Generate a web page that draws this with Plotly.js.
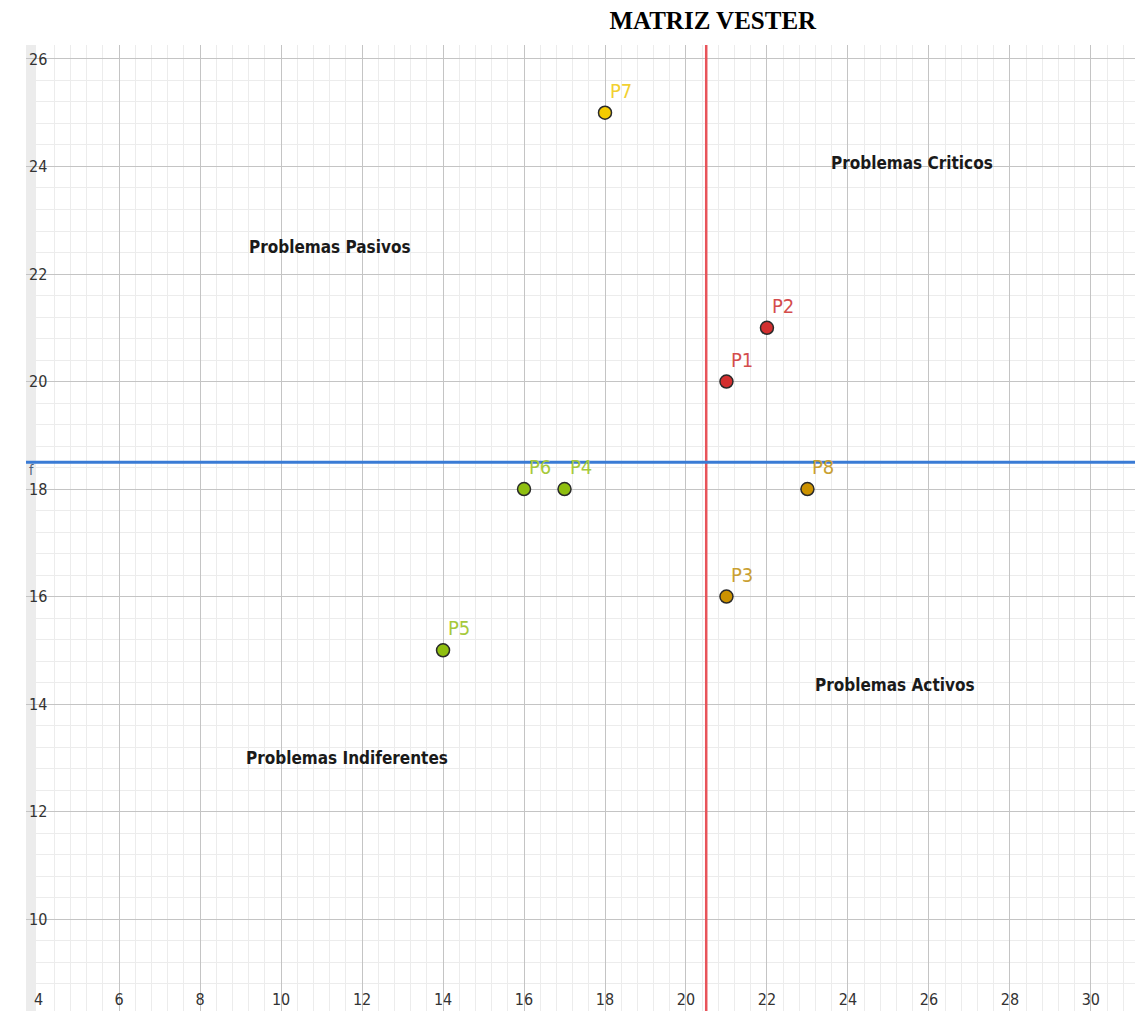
<!DOCTYPE html>
<html>
<head>
<meta charset="utf-8">
<script src="https://cdn.plot.ly/plotly-3.0.1.min.js"></script>
<style>html,body{margin:0;padding:0;background:#fff;}#chart{width:1135px;height:1011px;}</style>
</head>
<body>
<div id="chart"></div>
<script>
// ---- data ----
const puntos = ['P1', 'P2', 'P3', 'P4', 'P5', 'P6', 'P7', 'P8'];
const influencia = [21, 22, 21, 17, 14, 16, 18, 23];   // x
const dependencia = [20, 21, 16, 18, 15, 18, 25, 18];  // y
const corteX = 20.5;   // red vertical line
const corteY = 18.5;   // blue horizontal line (f)
const cuadrantes = ['Problemas Criticos', 'Problemas Pasivos', 'Problemas Activos', 'Problemas Indiferentes'];
const xTicks = [4, 6, 8, 10, 12, 14, 16, 18, 20, 22, 24, 26, 28, 30];
const yTicks = [10, 12, 14, 16, 18, 20, 22, 24, 26];
const titulo = 'MATRIZ VESTER';

// ---- styles ----
const markerFill = ['#d32f2f', '#d32f2f', '#cc9200', '#8fbf10', '#8fbf10', '#8fbf10', '#f5cc00', '#cc9200'];
const labelColor = ['#d44c4c', '#d44c4c', '#c9a032', '#a6c93a', '#a6c93a', '#a6c93a', '#f2d030', '#c9a032'];
const narrow = '"Liberation Sans Narrow", "DejaVu Sans Condensed", "Arial Narrow", sans-serif';
const quadPos = [[25.58, 24.07], [11.21, 22.5], [25.16, 14.35], [11.63, 13.0]];

const xRange = [3.70, 31.09];
const yRange = [8.29, 26.26];

const traces = [
  {
    x: [corteX, corteX], y: [yRange[0] - 5, yRange[1] + 5], mode: 'lines',
    line: {color: '#e8545a', width: 2.5}, hoverinfo: 'skip', showlegend: false
  },
  {
    x: [xRange[0] - 5, xRange[1] + 5], y: [corteY, corteY], mode: 'lines',
    line: {color: '#3a7bd5', width: 3}, hoverinfo: 'skip', showlegend: false
  },
  {
    x: influencia, y: dependencia, text: puntos, mode: 'markers',
    marker: {size: 13, color: markerFill, line: {color: '#2a2a2a', width: 1.5}},
    showlegend: false
  }
];

const tickFont = {family: narrow, size: 16, color: '#333'};
const annotations = [];
puntos.forEach((p, i) => {
  annotations.push({
    x: influencia[i], y: dependencia[i], xref: 'x', yref: 'y', text: p, showarrow: false,
    xanchor: 'left', yanchor: 'middle', xshift: 3, yshift: 22,
    font: {family: narrow, size: 20, color: labelColor[i]}
  });
});
cuadrantes.forEach((c, i) => {
  annotations.push({
    x: quadPos[i][0], y: quadPos[i][1], xref: 'x', yref: 'y', text: '<b>' + c + '</b>', showarrow: false,
    xanchor: 'center', yanchor: 'middle',
    font: {family: narrow, size: 17, color: '#1a1a1a'}
  });
});
// first x tick label (Plotly hides it where it meets the inside y labels)
annotations.push({
  x: xTicks[0], y: 0, xref: 'x', yref: 'paper', text: String(xTicks[0]), showarrow: false,
  xanchor: 'center', yanchor: 'bottom', yshift: 0, font: tickFont
});
annotations.push({
  x: 3.84, y: 18.36, xref: 'x', yref: 'y', text: 'f', showarrow: false,
  xanchor: 'center', yanchor: 'middle', font: {family: narrow, size: 14, color: '#50607a'}
});

const axisCommon = {
  showgrid: true, gridcolor: '#c4c4c4', gridwidth: 1,
  zeroline: false, showline: false, ticks: '',
  ticklabelposition: 'inside',
  tickfont: tickFont,
  fixedrange: true
};

const layout = {
  width: 1135, height: 1011,
  margin: {l: 26, r: 0, t: 45, b: 0},
  paper_bgcolor: '#ffffff', plot_bgcolor: '#ffffff',
  title: {
    text: '<b>' + titulo + '</b>', xref: 'container', yref: 'container',
    x: 0.628, xanchor: 'center', y: 1 - 20 / 1011, yanchor: 'middle',
    font: {family: '"Liberation Serif", "Times New Roman", serif', size: 25, color: '#000'}
  },
  xaxis: Object.assign({}, axisCommon, {
    range: xRange, tickmode: 'array', tickvals: xTicks, ticktext: xTicks.map(String),
    minor: {tick0: 4, dtick: 0.4, showgrid: true, gridcolor: '#ececec', gridwidth: 1}
  }),
  yaxis: Object.assign({}, axisCommon, {
    range: yRange, tickmode: 'array', tickvals: yTicks, ticktext: yTicks.map(String),
    minor: {tick0: 10, dtick: 0.4, showgrid: true, gridcolor: '#ececec', gridwidth: 1}
  }),
  shapes: [
    {type: 'rect', xref: 'paper', yref: 'paper', x0: 0, x1: 10 / 1109, y0: 0, y1: 1,
     fillcolor: 'rgba(200,200,200,0.35)', line: {width: 0}, layer: 'below'}
  ],
  annotations: annotations
};

Plotly.newPlot('chart', traces, layout, {displayModeBar: false, staticPlot: true});
</script>
</body>
</html>
